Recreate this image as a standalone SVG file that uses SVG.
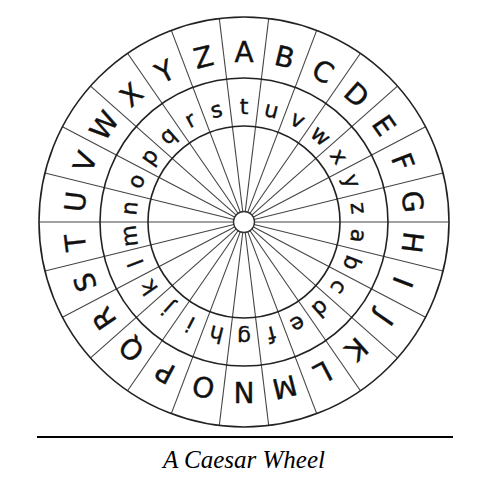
<svg xmlns="http://www.w3.org/2000/svg" width="488" height="482" viewBox="0 0 488 482">
<style>
.ring{fill:none;stroke:#222;stroke-width:1.6}
.spoke{stroke:#444;stroke-width:1.1}
.up{font-family:"DejaVu Sans",sans-serif;font-size:28px;fill:#111;stroke:#111;stroke-width:0.4;text-anchor:middle}
.lo{font-family:"DejaVu Sans",sans-serif;font-size:22px;fill:#111;stroke:#111;stroke-width:0.4;text-anchor:middle}
.cap{font-family:"Liberation Serif",serif;font-style:italic;font-size:25px;fill:#000;text-anchor:middle}
</style>
<rect width="488" height="482" fill="#fff"/>
<g id="spokes">
<line class="spoke" x1="244" y1="17" x2="244" y2="427" transform="rotate(6.923 244 222)"/>
<line class="spoke" x1="244" y1="17" x2="244" y2="427" transform="rotate(20.769 244 222)"/>
<line class="spoke" x1="244" y1="17" x2="244" y2="427" transform="rotate(34.615 244 222)"/>
<line class="spoke" x1="244" y1="17" x2="244" y2="427" transform="rotate(48.462 244 222)"/>
<line class="spoke" x1="244" y1="17" x2="244" y2="427" transform="rotate(62.308 244 222)"/>
<line class="spoke" x1="244" y1="17" x2="244" y2="427" transform="rotate(76.154 244 222)"/>
<line class="spoke" x1="244" y1="17" x2="244" y2="427" transform="rotate(90 244 222)"/>
<line class="spoke" x1="244" y1="17" x2="244" y2="427" transform="rotate(103.846 244 222)"/>
<line class="spoke" x1="244" y1="17" x2="244" y2="427" transform="rotate(117.692 244 222)"/>
<line class="spoke" x1="244" y1="17" x2="244" y2="427" transform="rotate(131.538 244 222)"/>
<line class="spoke" x1="244" y1="17" x2="244" y2="427" transform="rotate(145.385 244 222)"/>
<line class="spoke" x1="244" y1="17" x2="244" y2="427" transform="rotate(159.231 244 222)"/>
<line class="spoke" x1="244" y1="17" x2="244" y2="427" transform="rotate(173.077 244 222)"/>
</g>
<g id="rings">
<circle class="ring" cx="244" cy="222" r="205"/>
<circle class="ring" cx="244" cy="222" r="144"/>
<circle class="ring" cx="244" cy="222" r="96"/>
<circle cx="244" cy="222" r="10.5" fill="#fff" stroke="#333" stroke-width="1.4"/>
</g>
<g id="outer-letters">
<text class="up" x="244" y="62" transform="rotate(0 244 222)">A</text>
<text class="up" x="244" y="62" transform="rotate(13.846 244 222)">B</text>
<text class="up" x="244" y="62" transform="rotate(27.692 244 222)">C</text>
<text class="up" x="244" y="62" transform="rotate(41.538 244 222)">D</text>
<text class="up" x="244" y="62" transform="rotate(55.385 244 222)">E</text>
<text class="up" x="244" y="62" transform="rotate(69.231 244 222)">F</text>
<text class="up" x="244" y="62" transform="rotate(83.077 244 222)">G</text>
<text class="up" x="244" y="62" transform="rotate(96.923 244 222)">H</text>
<text class="up" x="244" y="62" transform="rotate(110.769 244 222)">I</text>
<text class="up" x="244" y="62" transform="rotate(124.615 244 222)">J</text>
<text class="up" x="244" y="62" transform="rotate(138.462 244 222)">K</text>
<text class="up" x="244" y="62" transform="rotate(152.308 244 222)">L</text>
<text class="up" x="244" y="62" transform="rotate(166.154 244 222)">M</text>
<text class="up" x="244" y="62" transform="rotate(180 244 222)">N</text>
<text class="up" x="244" y="62" transform="rotate(193.846 244 222)">O</text>
<text class="up" x="244" y="62" transform="rotate(207.692 244 222)">P</text>
<text class="up" x="244" y="62" transform="rotate(221.538 244 222)">Q</text>
<text class="up" x="244" y="62" transform="rotate(235.385 244 222)">R</text>
<text class="up" x="244" y="62" transform="rotate(249.231 244 222)">S</text>
<text class="up" x="244" y="62" transform="rotate(263.077 244 222)">T</text>
<text class="up" x="244" y="62" transform="rotate(276.923 244 222)">U</text>
<text class="up" x="244" y="62" transform="rotate(290.769 244 222)">V</text>
<text class="up" x="244" y="62" transform="rotate(304.615 244 222)">W</text>
<text class="up" x="244" y="62" transform="rotate(318.462 244 222)">X</text>
<text class="up" x="244" y="62" transform="rotate(332.308 244 222)">Y</text>
<text class="up" x="244" y="62" transform="rotate(346.154 244 222)">Z</text>
</g>
<g id="inner-letters">
<text class="lo" x="244" y="114" transform="rotate(0 244 222)">t</text>
<text class="lo" x="244" y="114" transform="rotate(13.846 244 222)">u</text>
<text class="lo" x="244" y="114" transform="rotate(27.692 244 222)">v</text>
<text class="lo" x="244" y="114" transform="rotate(41.538 244 222)">w</text>
<text class="lo" x="244" y="114" transform="rotate(55.385 244 222)">x</text>
<text class="lo" x="244" y="114" transform="rotate(69.231 244 222)">y</text>
<text class="lo" x="244" y="114" transform="rotate(83.077 244 222)">z</text>
<text class="lo" x="244" y="114" transform="rotate(96.923 244 222)">a</text>
<text class="lo" x="244" y="114" transform="rotate(110.769 244 222)">b</text>
<text class="lo" x="244" y="114" transform="rotate(124.615 244 222)">c</text>
<text class="lo" x="244" y="114" transform="rotate(138.462 244 222)">d</text>
<text class="lo" x="244" y="114" transform="rotate(152.308 244 222)">e</text>
<text class="lo" x="244" y="114" transform="rotate(166.154 244 222)">f</text>
<text class="lo" x="244" y="114" transform="rotate(180 244 222)">g</text>
<text class="lo" x="244" y="114" transform="rotate(193.846 244 222)">h</text>
<text class="lo" x="244" y="114" transform="rotate(207.692 244 222)">i</text>
<text class="lo" x="244" y="114" transform="rotate(221.538 244 222)">j</text>
<text class="lo" x="244" y="114" transform="rotate(235.385 244 222)">k</text>
<text class="lo" x="244" y="114" transform="rotate(249.231 244 222)">l</text>
<text class="lo" x="244" y="114" transform="rotate(263.077 244 222)">m</text>
<text class="lo" x="244" y="114" transform="rotate(276.923 244 222)">n</text>
<text class="lo" x="244" y="114" transform="rotate(290.769 244 222)">o</text>
<text class="lo" x="244" y="114" transform="rotate(304.615 244 222)">p</text>
<text class="lo" x="244" y="114" transform="rotate(318.462 244 222)">q</text>
<text class="lo" x="244" y="114" transform="rotate(332.308 244 222)">r</text>
<text class="lo" x="244" y="114" transform="rotate(346.154 244 222)">s</text>
</g>
<g id="caption">
<line x1="37" y1="437" x2="453" y2="437" stroke="#000" stroke-width="2"/>
<text class="cap" x="244" y="468">A Caesar Wheel</text>
</g>
</svg>
